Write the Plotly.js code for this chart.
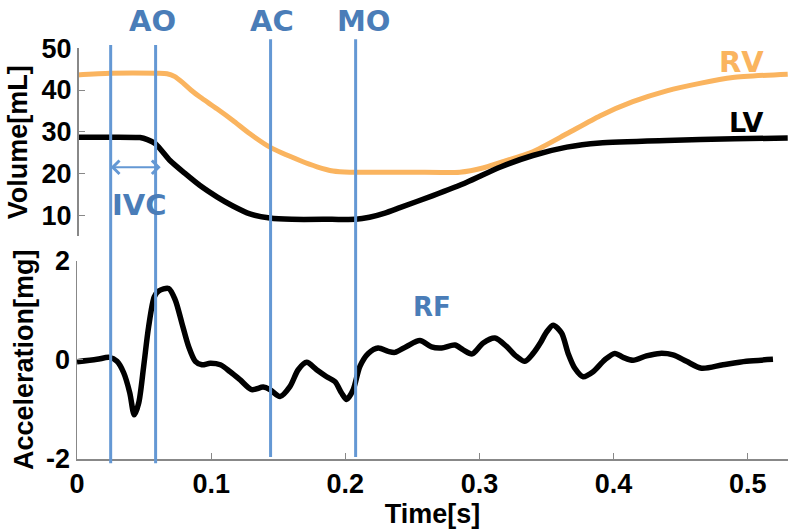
<!DOCTYPE html>
<html>
<head>
<meta charset="utf-8">
<script src="https://cdn.plot.ly/plotly-3.0.1.min.js"></script>
<style>html,body{margin:0;padding:0;background:#fff;}#chart{width:800px;height:532px;}</style>
</head>
<body>
<div id="chart"></div>
<script>
// Volume curves (time in s, volume in mL)
const rvTime = [0, 0.0246, 0.0600, 0.0671, 0.0730, 0.0790, 0.0849, 0.0917, 0.1043, 0.1162, 0.1289, 0.1438, 0.1662, 0.1789, 0.1908, 0.2034, 0.2500, 0.2854, 0.3025, 0.3152, 0.3398, 0.3651, 0.3897, 0.4143, 0.4396, 0.4642, 0.4888, 0.5298];
const rvVol  = [43.6, 44.0, 44.0, 43.9, 43.2, 41.7, 40.0, 38.3, 35.5, 32.7, 29.5, 26.3, 23.1, 21.6, 20.6, 20.3, 20.3, 20.3, 21.3, 22.6, 25.2, 29.5, 33.8, 37.2, 39.8, 41.6, 43.0, 43.8];
const lvTime = [0, 0.0246, 0.0470, 0.0525, 0.0586, 0.0693, 0.0805, 0.0917, 0.1043, 0.1162, 0.1289, 0.1438, 0.1600, 0.1900, 0.2077, 0.2180, 0.2295, 0.2407, 0.2653, 0.2906, 0.3152, 0.3398, 0.3651, 0.3897, 0.4396, 0.4900, 0.5298];
const lvVol  = [28.7, 28.7, 28.6, 28.1, 27.1, 23.1, 20.0, 17.1, 14.4, 12.2, 10.3, 9.3, 9.0, 9.0, 9.0, 9.5, 10.5, 11.8, 14.7, 17.9, 21.5, 24.3, 26.3, 27.3, 27.9, 28.3, 28.5];

// Acceleration (time in s, mg)
const accTime = [0.0000, 0.0149, 0.0241, 0.0298, 0.0348, 0.0393, 0.0427, 0.0460, 0.0497, 0.0534, 0.0576, 0.0609, 0.0683, 0.0732, 0.0782, 0.0832, 0.0882, 0.0931, 0.0993, 0.1068, 0.1142, 0.1215, 0.1302, 0.1388, 0.1438, 0.1513, 0.1587, 0.1649, 0.1712, 0.1786, 0.1861, 0.1923, 0.1972, 0.2010, 0.2059, 0.2109, 0.2171, 0.2245, 0.2320, 0.2370, 0.2457, 0.2556, 0.2643, 0.2718, 0.2817, 0.2879, 0.2946, 0.3028, 0.3115, 0.3202, 0.3276, 0.3338, 0.3400, 0.3458, 0.3495, 0.3549, 0.3612, 0.3661, 0.3711, 0.3773, 0.3847, 0.3934, 0.4009, 0.4071, 0.4145, 0.4245, 0.4344, 0.4443, 0.4543, 0.4655, 0.4816, 0.4990, 0.5188];
const accVal  = [-0.04, 0.01, 0.05, -0.03, -0.26, -0.66, -1.11, -0.87, -0.13, 0.67, 1.27, 1.39, 1.44, 1.21, 0.74, 0.27, -0.03, -0.10, -0.07, -0.10, -0.24, -0.40, -0.60, -0.55, -0.60, -0.74, -0.54, -0.20, -0.05, -0.20, -0.34, -0.44, -0.67, -0.80, -0.60, -0.13, 0.13, 0.24, 0.17, 0.15, 0.27, 0.39, 0.26, 0.24, 0.30, 0.20, 0.12, 0.34, 0.44, 0.27, 0.07, -0.03, 0.13, 0.36, 0.54, 0.70, 0.54, 0.13, -0.17, -0.34, -0.24, 0.00, 0.13, 0.05, -0.01, 0.08, 0.13, 0.10, -0.03, -0.17, -0.10, -0.03, 0.01];

// Event markers
const eventNames = ['', 'AO', 'AC', 'MO'];
const eventTimes = [0.0251, 0.0586, 0.1443, 0.2077];
const eventLabelX = [null, 0.0561, 0.1450, 0.2140];

const xTicks = [0, 0.1, 0.2, 0.3, 0.4, 0.5];
const xTickText = ['0', '0.1', '0.2', '0.3', '0.4', '0.5'];
const volTicks = [10, 20, 30, 40, 50];
const volTickText = ['10', '20', '30', '40', '50'];
const accTicks = [-2, 0, 2];
const accTickText = ['-2', '0', '2'];

const blueLine = 'rgb(100,152,212)';
const blueText = 'rgb(74,125,184)';
const orange = 'rgb(250,180,95)';
const FONT = 'Liberation Sans, Arial, sans-serif';
const LBLFONT = 'DejaVu Sans, Verdana, sans-serif';
const bold = a => a.map(s => '<b>' + s + '</b>');

const traces = [
  {x: rvTime, y: rvVol, xaxis: 'x', yaxis: 'y2', mode: 'lines', line: {color: orange, width: 5, shape: 'spline', smoothing: 0.6}, hoverinfo: 'skip'},
  {x: lvTime, y: lvVol, xaxis: 'x', yaxis: 'y2', mode: 'lines', line: {color: '#000', width: 5.5, shape: 'spline', smoothing: 0.6}, hoverinfo: 'skip'},
  {x: accTime, y: accVal, xaxis: 'x', yaxis: 'y', mode: 'lines', line: {color: '#000', width: 5.5, shape: 'spline', smoothing: 0.8}, hoverinfo: 'skip'}
];

const shapes = eventTimes.map((t, i) => ({
  type: 'line', xref: 'x', yref: 'paper', x0: t, x1: t,
  y0: i < 2 ? -0.01 : 0.005, y1: i < 2 ? 0.988 : 1.002,
  line: {color: blueLine, width: 3}, layer: 'above'
}));

const annotations = [];
eventNames.forEach((n, i) => {
  if (!n) return;
  annotations.push({x: eventLabelX[i], y: 1.045, xref: 'x', yref: 'paper', yanchor: 'middle', text: '<b>' + n + '</b>', showarrow: false, font: {family: LBLFONT, size: 29, color: blueText}});
});
// IVC double arrow
annotations.push({x: eventTimes[0], ax: 0.0635, y: 21.5, ay: 21.5, xref: 'x', yref: 'y2', axref: 'x', ayref: 'y2', text: '', showarrow: true, arrowhead: 4, startarrowhead: 4, arrowside: 'end+start', arrowsize: 1.3, arrowwidth: 2, arrowcolor: blueLine});
annotations.push({x: 0.0465, y: 12.5, xref: 'x', yref: 'y2', text: '<b>IVC</b>', showarrow: false, font: {family: LBLFONT, size: 29, color: blueText}});
annotations.push({x: 0.4955, y: 46.6, xref: 'x', yref: 'y2', text: '<b>RV</b>', showarrow: false, font: {family: LBLFONT, size: 29, color: orange}});
annotations.push({x: 0.4985, y: 32.3, xref: 'x', yref: 'y2', text: '<b>LV</b>', showarrow: false, font: {family: LBLFONT, size: 27, color: '#000'}});
annotations.push({x: 0.2645, y: 1.07, xref: 'x', yref: 'y', text: '<b>RF</b>', showarrow: false, font: {family: LBLFONT, size: 26, color: blueText}});

const axCommon = {showgrid: false, zeroline: false, showline: true, linecolor: '#888', linewidth: 1.5, ticks: 'inside', ticklen: 6, tickcolor: '#888', tickfont: {family: FONT, size: 27, color: '#000'}};

const layout = {
  width: 800, height: 532,
  margin: {l: 77, r: 12, t: 40, b: 73},
  paper_bgcolor: '#fff', plot_bgcolor: 'rgba(0,0,0,0)',
  showlegend: false,
  xaxis: Object.assign({}, axCommon, {range: [0, 0.53], anchor: 'y', tickvals: xTicks, ticktext: bold(xTickText),
    title: {text: '<b>Time[s]</b>', font: {family: FONT, size: 27, color: '#000'}, standoff: 2}}),
  yaxis: Object.assign({}, axCommon, {domain: [0, 0.4733], range: [-2, 2], anchor: 'x', tickvals: accTicks, ticktext: bold(accTickText),
    title: {text: '<b>Acceleration[mg]</b>', font: {family: FONT, size: 27, color: '#000'}, standoff: 4}}),
  yaxis2: Object.assign({}, axCommon, {domain: [0.5322, 0.9802], range: [5, 50], anchor: 'free', position: 0, tickvals: volTicks, ticktext: bold(volTickText),
    title: {text: '<b>Volume[mL]</b>', font: {family: FONT, size: 27, color: '#000'}, standoff: 4}}),
  shapes: shapes,
  annotations: annotations
};

Plotly.newPlot('chart', traces, layout, {staticPlot: true, displayModeBar: false});
</script>
</body>
</html>
